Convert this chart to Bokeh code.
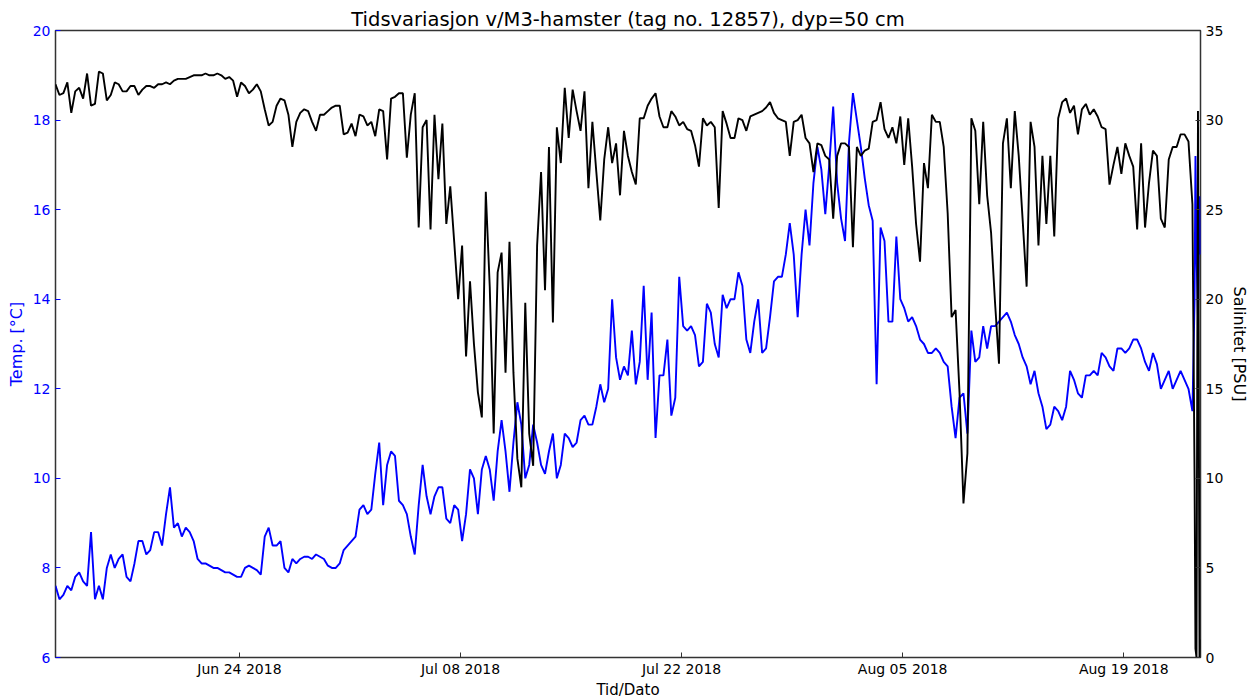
import pandas as pd
from bokeh.plotting import figure
from bokeh.models import Range1d, LinearAxis, FixedTicker, DatetimeTickFormatter
from bokeh.embed import file_html
from bokeh.resources import INLINE

# ---- data, one sample every 6 hours ----
series_start = "2018-06-12 08:24"
step_hours = 6

temp = [7.6, 7.3, 7.4, 7.6, 7.5, 7.8, 7.9, 7.7, 7.6, 8.8,
        7.3, 7.6, 7.3, 8.0, 8.3, 8.0, 8.2, 8.3, 7.8, 7.7,
        8.1, 8.6, 8.6, 8.3, 8.4, 8.8, 8.8, 8.5, 9.2, 9.8,
        8.9, 9.0, 8.7, 8.9, 8.8, 8.6, 8.2, 8.1, 8.1, 8.05,
        8.0, 8.0, 7.95, 7.9, 7.9, 7.85, 7.8, 7.8, 8.0, 8.05,
        8.0, 7.95, 7.85, 8.7, 8.9, 8.5, 8.5, 8.6, 8.0, 7.9,
        8.2, 8.1, 8.2, 8.25, 8.25, 8.2, 8.3, 8.25, 8.2, 8.05,
        8.0, 8.0, 8.1, 8.4, 8.5, 8.6, 8.7, 9.3, 9.4, 9.2,
        9.3, 10.1, 10.8, 9.4, 10.3, 10.6, 10.5, 9.5, 9.4, 9.2,
        8.7, 8.3, 9.4, 10.3, 9.6, 9.2, 9.6, 9.8, 9.8, 9.1,
        9.0, 9.4, 9.3, 8.6, 9.2, 10.2, 10.0, 9.2, 10.2, 10.5,
        10.2, 9.5, 10.6, 11.3, 10.6, 9.7, 10.8, 11.7, 11.2, 10.0,
        10.3, 11.2, 10.8, 10.3, 10.1, 10.6, 11.0, 10.0, 10.3, 11.0,
        10.9, 10.7, 10.8, 11.3, 11.4, 11.2, 11.2, 11.6, 12.1, 11.7,
        12.0, 14.0, 12.7, 12.2, 12.5, 12.3, 13.3, 12.1, 12.6, 14.3,
        12.2, 13.7, 10.9, 12.3, 12.3, 13.1, 11.4, 11.8, 14.5, 13.4,
        13.3, 13.4, 13.2, 12.5, 12.6, 13.9, 13.7, 13.0, 12.7, 14.1,
        13.8, 14.0, 14.0, 14.6, 14.3, 13.1, 12.8, 13.5, 14.0, 12.8,
        12.9, 13.6, 14.4, 14.5, 14.5, 15.0, 15.7, 15.0, 13.6, 15.0,
        16.0, 15.2, 16.6, 17.4, 16.9, 15.9, 17.0, 18.3, 16.6, 15.8,
        15.3, 17.5, 18.6, 18.0, 17.4, 16.7, 16.1, 15.75, 12.1, 15.6,
        15.3, 13.5, 13.5, 15.4, 14.0, 13.8, 13.5, 13.6, 13.4, 13.1,
        13.0, 12.8, 12.8, 12.9, 12.8, 12.6, 12.5, 11.6, 10.9, 11.8,
        11.9, 11.0, 13.3, 12.6, 12.7, 13.4, 12.9, 13.4, 13.4, 13.5,
        13.6, 13.7, 13.5, 13.2, 13.0, 12.7, 12.5, 12.1, 12.4, 11.9,
        11.6, 11.1, 11.2, 11.6, 11.5, 11.3, 11.6, 12.4, 12.2, 11.9,
        11.8, 12.3, 12.3, 12.4, 12.3, 12.8, 12.7, 12.5, 12.4, 12.9,
        12.9, 12.8, 12.9, 13.1, 13.1, 12.9, 12.6, 12.4, 12.8, 12.55,
        12.0, 12.2, 12.4, 12.0, 12.2, 12.4, 12.2, 12.0, 11.5]

sal = [32.0, 31.4, 31.5, 32.1, 30.4, 31.6, 31.8, 31.2, 32.6, 30.8,
       30.9, 32.7, 32.6, 31.1, 31.4, 32.1, 32.0, 31.6, 31.6, 31.9,
       31.9, 31.4, 31.7, 31.9, 31.9, 31.8, 32.0, 32.0, 32.1, 32.0,
       32.2, 32.3, 32.3, 32.3, 32.4, 32.5, 32.5, 32.5, 32.6, 32.5,
       32.5, 32.6, 32.5, 32.3, 32.4, 32.2, 31.3, 32.1, 31.9, 31.5,
       31.7, 32.0, 31.6, 30.6, 29.7, 29.9, 30.8, 31.2, 31.1, 30.3,
       28.5, 29.9, 30.4, 30.6, 30.5, 29.9, 29.4, 30.3, 30.3, 30.5,
       30.7, 30.8, 30.8, 29.2, 29.3, 29.8, 29.1, 30.3, 30.2, 29.7,
       29.9, 29.1, 30.6, 30.5, 27.8, 31.2, 31.3, 31.5, 31.5, 27.9,
       30.3, 31.5, 24.0, 29.6, 30.0, 23.9, 30.3, 26.7, 29.8, 24.2,
       26.3, 23.2, 20.0, 23.0, 16.8, 21.0, 17.5, 14.8, 13.4, 26.0,
       20.7, 12.5, 21.5, 22.6, 15.9, 23.2, 15.9, 11.1, 9.5, 19.8,
       12.5, 10.7, 23.0, 27.1, 20.5, 28.5, 18.7, 29.6, 27.6, 31.8,
       29.0, 31.7, 30.5, 29.4, 31.6, 26.2, 29.9, 27.1, 24.4, 27.8,
       29.6, 27.6, 28.7, 25.8, 29.4, 28.0, 27.1, 26.4, 30.1, 30.1,
       30.8, 31.2, 31.5, 30.2, 29.6, 29.6, 30.5, 30.2, 29.7, 29.9,
       29.5, 29.4, 28.6, 27.4, 30.1, 29.7, 29.9, 29.6, 25.1, 30.5,
       29.8, 29.0, 29.0, 30.1, 30.0, 29.4, 30.2, 30.3, 30.4, 30.5,
       30.7, 31.0, 30.4, 30.1, 30.0, 29.9, 28.0, 29.9, 30.0, 30.3,
       29.0, 28.7, 27.1, 28.7, 28.6, 28.0, 27.8, 24.5, 28.0, 28.7,
       28.7, 28.5, 22.9, 28.5, 28.0, 28.3, 28.4, 29.9, 30.0, 31.0,
       29.5, 29.0, 29.6, 28.7, 30.2, 27.5, 30.1, 27.4, 24.2, 22.1,
       27.6, 26.2, 30.3, 29.9, 29.9, 28.5, 24.8, 19.0, 19.4, 14.8,
       8.6, 11.4, 30.1, 29.4, 25.3, 29.9, 25.8, 23.7, 19.8, 16.4,
       28.7, 30.1, 26.2, 30.5, 28.0, 24.4, 20.7, 29.9, 28.5, 23.0,
       28.0, 24.2, 28.0, 23.5, 30.1, 31.0, 31.2, 30.4, 30.8, 29.2,
       30.6, 30.9, 30.3, 30.6, 30.2, 29.6, 29.5, 26.4, 27.5, 28.5,
       27.0, 28.7, 28.0, 27.4, 23.9, 28.7, 24.0, 26.5, 28.3, 28.0,
       24.5, 24.0, 27.8, 28.5, 28.5, 29.2, 29.2, 28.8, 25.3]

# last hours of the record (sensor taken out of the water)
tail_times = ["2018-08-23 11:40", "2018-08-23 13:00", "2018-08-23 14:35",
              "2018-08-23 16:50", "2018-08-23 19:10", "2018-08-23 20:40"]
tail_temp = [14.0, 17.2, 15.0, 13.6, 16.3, 15.0]
tail_sal = [10.0, 0.5, 0.0, 30.5, 0.0, 1.0]

x_start = "2018-06-12 08:24"
x_end = "2018-08-23 20:40"
date_ticks = ["2018-06-24", "2018-07-08", "2018-07-22", "2018-08-05", "2018-08-19"]
temp_ticks = [6, 8, 10, 12, 14, 16, 18, 20]
sal_ticks = [0, 5, 10, 15, 20, 25, 30, 35]

# ---- build ----
times = list(pd.date_range(series_start, periods=len(temp), freq=f"{step_hours}h")) + \
        [pd.Timestamp(t) for t in tail_times]
temp_all = temp + tail_temp
sal_all = sal + tail_sal

FONT = "DejaVu Sans"

p = figure(frame_width=1145, frame_height=627, x_axis_type="datetime",
           x_range=Range1d(pd.Timestamp(x_start), pd.Timestamp(x_end)),
           y_range=Range1d(6, 20),
           output_backend="svg", toolbar_location=None,
           title="Tidsvariasjon v/M3-hamster (tag no. 12857), dyp=50 cm")
p.min_border_left = 55
p.min_border_right = 50
p.min_border_top = 30
p.min_border_bottom = 39
p.title.align = "center"
p.title.text_font = FONT
p.title.text_font_size = "19.5px"
p.title.text_font_style = "normal"
p.title.text_color = "black"
p.title.standoff = 0
p.title.offset = 0
p.background_fill_color = "white"
p.border_fill_color = "white"
p.outline_line_color = "#333333"
p.outline_line_width = 1.5
p.xgrid.visible = False
p.ygrid.visible = False

p.extra_y_ranges = {"sal": Range1d(0, 35)}

# x axis (bottom)
xa = p.xaxis[0]
xa.ticker = FixedTicker(ticks=[pd.Timestamp(d).value / 1e6 for d in date_ticks])
xa.formatter = DatetimeTickFormatter(days="%b %d %Y", months="%b %d %Y", hours="%b %d %Y")
xa.axis_label = "Tid/Dato"
xa.axis_label_text_font = FONT
xa.axis_label_text_font_size = "15px"
xa.axis_label_text_font_style = "normal"
xa.axis_label_text_color = "black"
xa.axis_label_standoff = 1
xa.major_label_text_font = FONT
xa.major_label_text_font_size = "14px"
xa.major_label_text_color = "black"
xa.major_label_standoff = 3
xa.major_tick_in = 5
xa.major_tick_out = 0
xa.minor_tick_line_color = None
xa.axis_line_color = None
xa.major_tick_line_color = "#333333"

# left axis (temperature)
ya = p.yaxis[0]
ya.ticker = FixedTicker(ticks=temp_ticks)
ya.axis_label = "Temp. [°C]"
ya.axis_label_text_color = "blue"
ya.axis_label_text_font = FONT
ya.axis_label_text_font_size = "16px"
ya.axis_label_text_font_style = "normal"
ya.axis_label_standoff = 4
ya.major_label_text_color = "blue"
ya.major_label_text_font = FONT
ya.major_label_text_font_size = "14px"
ya.major_label_standoff = 5
ya.major_tick_in = 5
ya.major_tick_out = 0
ya.minor_tick_line_color = None
ya.axis_line_color = None
ya.major_tick_line_color = "blue"

# right axis (salinity)
ra = LinearAxis(y_range_name="sal", ticker=FixedTicker(ticks=sal_ticks),
                axis_label="Salinitet [PSU]")
ra.axis_label_text_font = FONT
ra.axis_label_text_font_size = "16px"
ra.axis_label_text_font_style = "normal"
ra.axis_label_text_color = "black"
ra.axis_label_standoff = 4
ra.major_label_text_font = FONT
ra.major_label_text_font_size = "14px"
ra.major_label_text_color = "black"
ra.major_label_standoff = 5
ra.major_tick_in = 5
ra.major_tick_out = 0
ra.minor_tick_line_color = None
ra.axis_line_color = None
ra.major_tick_line_color = "#333333"
p.add_layout(ra, "right")

p.line(times, temp_all, line_color="#0000ff", line_width=1.9)
p.line(times, sal_all, line_color="black", line_width=1.9, y_range_name="sal")

open("out.html", "w").write(file_html(p, INLINE))
